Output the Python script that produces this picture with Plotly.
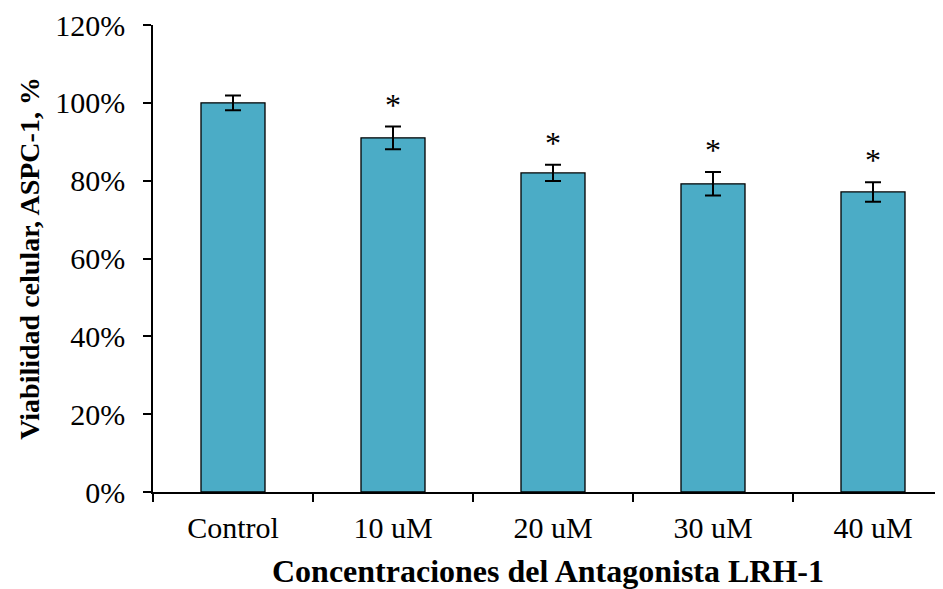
import plotly.graph_objects as go

categories = ["Control", "10 uM", "20 uM", "30 uM", "40 uM"]
viability = [100.0, 91.0, 82.0, 79.2, 77.1]
errors = [1.9, 2.9, 2.1, 3.0, 2.5]
significance = ["", "*", "*", "*", "*"]
y_ticks = [0, 20, 40, 60, 80, 100, 120]

fig = go.Figure()
fig.add_trace(go.Bar(
    x=categories, y=viability, width=0.4,
    marker=dict(color="#4BACC6", line=dict(color="black", width=1.3)),
    error_y=dict(type="data", array=errors, visible=True, color="black",
                 thickness=2, width=8),
))

for cat, v, e, s in zip(categories, viability, errors, significance):
    if s:
        fig.add_annotation(x=cat, y=v + e, text=s, showarrow=False,
                           yanchor="bottom", yshift=2,
                           font=dict(family="Liberation Serif", size=32, color="black"))

fig.update_layout(
    width=943, height=589,
    margin=dict(l=145, r=8, t=17, b=105),
    paper_bgcolor="white", plot_bgcolor="white",
    showlegend=False,
    font=dict(family="Liberation Serif", color="black", size=30),
    bargap=0.6,
)
fig.update_xaxes(
    range=[-0.5, 4.4375], tickson="boundaries", ticks="outside", ticklen=8,
    tickcolor="black", tickwidth=1.5, showline=True, linecolor="black", linewidth=1.5,
    showgrid=False, ticklabelstandoff=8, automargin=False,
    tickfont=dict(size=30),
    title=dict(text="<b>Concentraciones del Antagonista LRH-1</b>",
               font=dict(size=32), standoff=17),
)
fig.update_yaxes(
    range=[0, 120], tickvals=y_ticks, ticktext=[f"{t}%" for t in y_ticks],
    ticks="outside", ticklen=8, tickcolor="black", tickwidth=1.5,
    showline=True, linecolor="black", linewidth=1.5, showgrid=False, zeroline=False,
    ticklabelstandoff=12, tickfont=dict(size=30), automargin=False,
    title=dict(text="<b>Viabilidad celular, ASPC-1, %</b>", font=dict(size=28), standoff=7),
)

fig.write_html("out.html")
